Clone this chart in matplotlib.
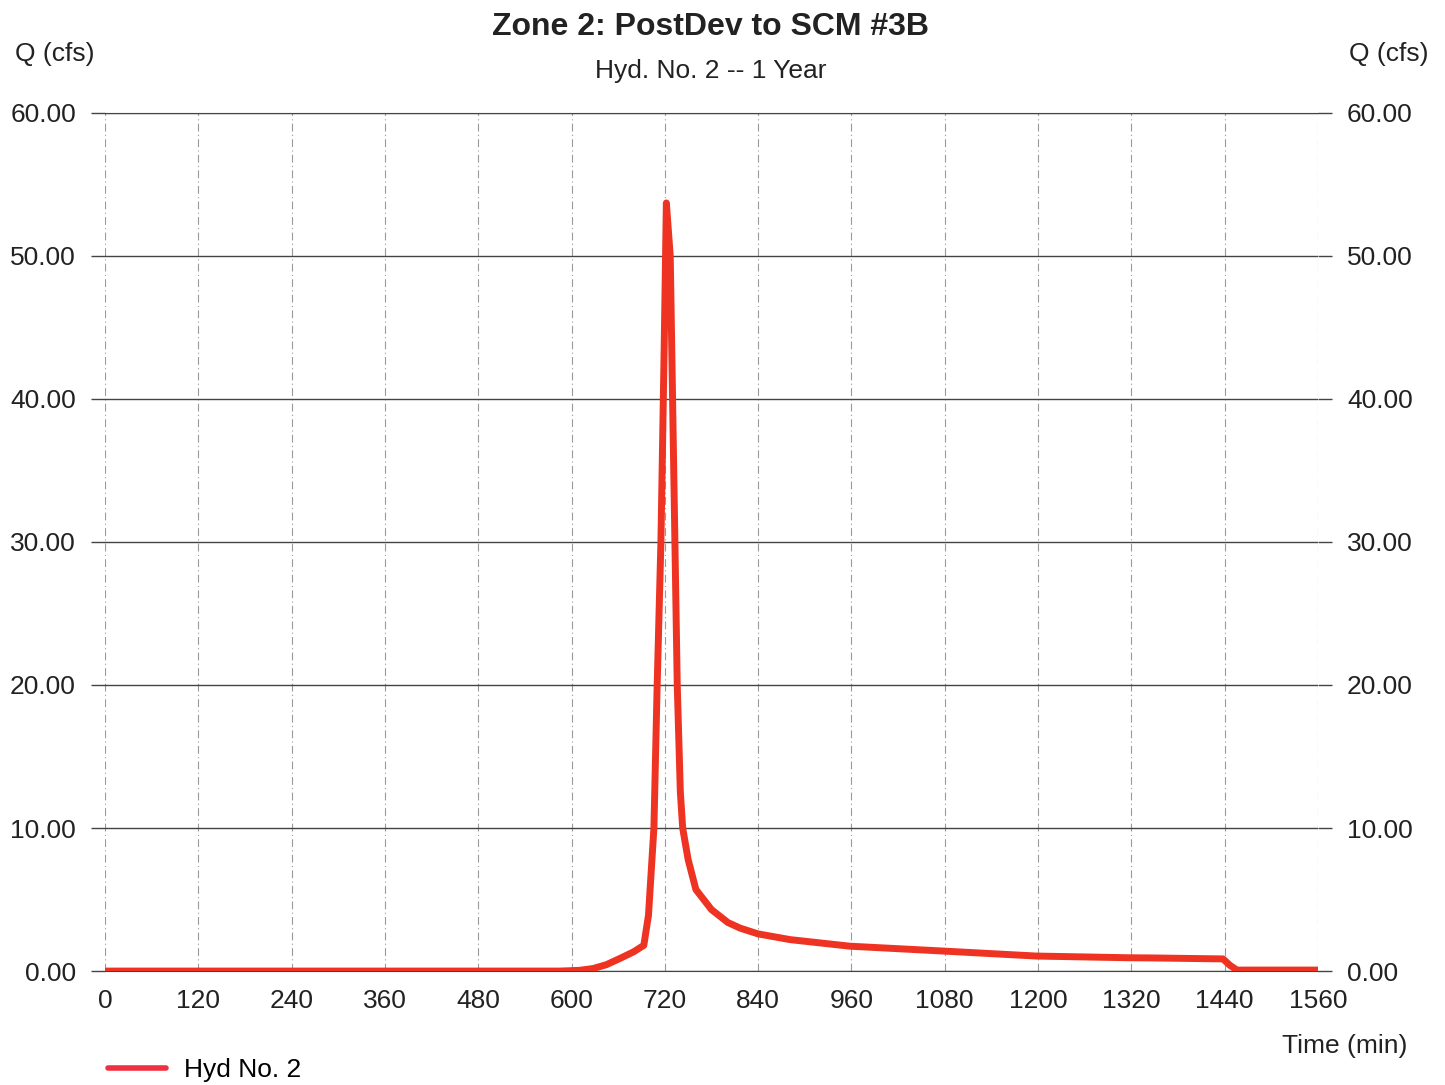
import matplotlib.pyplot as plt

plt.rcParams['font.family'] = ['Liberation Sans', 'DejaVu Sans']

# hydrograph
time_min = [0, 120, 240, 360, 480, 585, 610, 628, 645, 663, 680, 693, 699, 706, 710,
            715, 719, 722, 727, 730, 733, 736, 740, 743, 750, 760, 780, 801, 817,
            840, 881, 958, 1078, 1198, 1318, 1344, 1438, 1447, 1456, 1560]
flow_cfs = [0.0, 0.0, 0.0, 0.0, 0.0, 0.0, 0.05, 0.18, 0.45, 0.9, 1.35, 1.8, 3.9, 10.0, 19.6,
            30.0, 42.9, 53.7, 50.0, 40.0, 30.0, 20.0, 12.5, 10.0, 7.8, 5.7, 4.3, 3.4, 3.0,
            2.6, 2.2, 1.74, 1.4, 1.05, 0.93, 0.92, 0.85, 0.4, 0.07, 0.07]

x_ticks = list(range(0, 1561, 120))
y_ticks = [0, 10, 20, 30, 40, 50, 60]

title = 'Zone 2: PostDev to SCM #3B'
subtitle = 'Hyd. No. 2 -- 1 Year'
series_name = 'Hyd No. 2'

fig = plt.figure(figsize=(14.45, 10.85), dpi=100)
ax = fig.add_axes([0.0727, 0.105, 0.8393, 0.791])

line, = ax.plot(time_min, flow_cfs, color='#ef3322', lw=5, solid_capstyle='round',
                solid_joinstyle='round', zorder=3)

ax.set_xlim(0, 1560)
ax.set_ylim(0, 60)
ax.set_xticks(x_ticks)
ax.set_yticks(y_ticks)
ax.set_yticklabels(['%.2f' % v for v in y_ticks])

ax.xaxis.grid(True, color='#9a9a9a', lw=0.8, ls=(0, (7, 3, 1, 3)))
ax.yaxis.grid(True, color='#444444', lw=1.0)
ax.set_axisbelow(True)

for side in ['left', 'right']:
    ax.spines[side].set_visible(False)
ax.spines['top'].set_color('#444444')
ax.spines['bottom'].set_color('#444444')

ax.tick_params(axis='x', length=0, pad=13, labelsize=19, colors='#222222')
ax.tick_params(axis='y', which='both', length=10, width=1.0, color='#444444', pad=11,
               labelsize=19, labelcolor='#222222', right=True, labelright=True)

fig.text(0.492, 0.975, title, ha='center', va='center', fontsize=23, fontweight='bold', color='#222222')
fig.text(0.492, 0.935, subtitle, ha='center', va='center', fontsize=19, color='#222222')
fig.text(0.038, 0.950, 'Q (cfs)', ha='center', va='center', fontsize=19, color='#222222')
fig.text(0.961, 0.950, 'Q (cfs)', ha='center', va='center', fontsize=19, color='#222222')
fig.text(0.974, 0.036, 'Time (min)', ha='right', va='center', fontsize=19, color='#222222')

leg = fig.legend([line], [series_name], loc='center left', bbox_to_anchor=(0.058, 0.014),
                 frameon=False, fontsize=19, handlelength=2.2, handletextpad=0.7)
leg.get_lines()[0].set_color('#f03040')
leg.get_lines()[0].set_linewidth(4)

fig.savefig('out.png', dpi=100)
